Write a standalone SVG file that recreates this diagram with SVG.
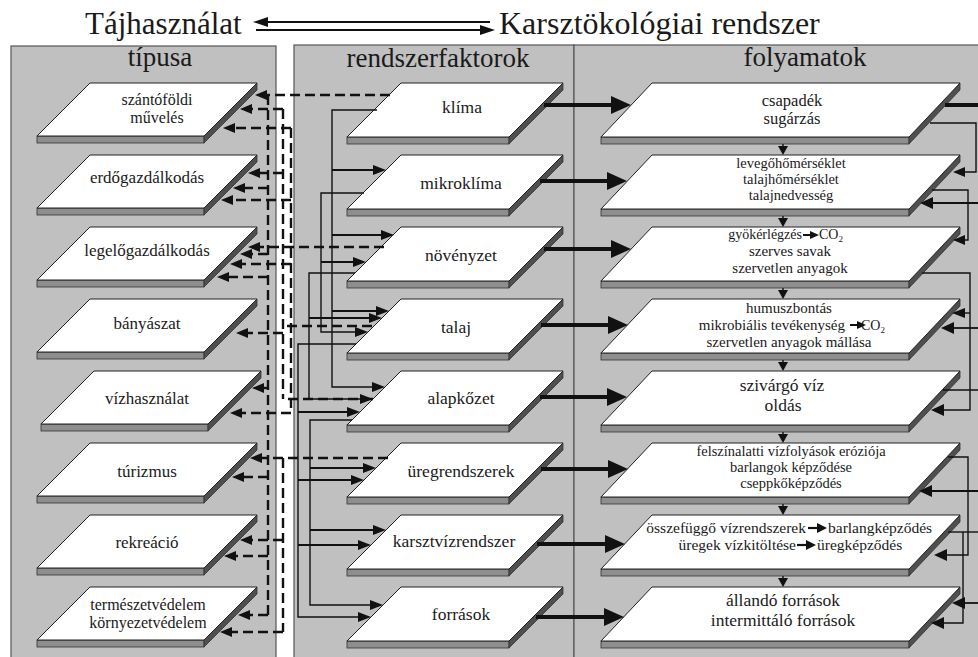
<svg xmlns="http://www.w3.org/2000/svg" width="978" height="657" viewBox="0 0 978 657">
<defs>
<style>
.panel{fill:#c0c0c0;stroke:#555;stroke-width:1.2}
.face{fill:#fff;stroke:#222;stroke-width:1}
.slab{fill:#8e8e8e;stroke:#333;stroke-width:0.8}
.side{fill:#4f4f4f;stroke:#333;stroke-width:0.8}
text{font-family:"Liberation Serif","Times New Roman",serif;fill:#1a1a1a}
.ttl{font-size:31px}
.hdr{font-size:27px;text-anchor:middle}
.lt{font-size:17px;text-anchor:middle}
.lt2{font-size:16px;text-anchor:middle}
.mt{font-size:17.5px;text-anchor:middle}
.rt{font-size:14.5px;text-anchor:middle}
.rb{font-size:17.5px;text-anchor:middle}
.thick{stroke:#111;stroke-width:4;fill:none}
.thin{stroke:#111;stroke-width:1.4;fill:none}
.sol{stroke:#111;stroke-width:2;fill:none}
.dash{stroke:#111;stroke-width:2.4;fill:none;stroke-dasharray:10 5}
.ah{fill:#111;stroke:none}
</style>
</defs>
<rect width="978" height="657" fill="#fff"/>

<!-- title -->
<g id="title">
<text class="ttl" x="85" y="34">Tájhasználat</text>
<text class="ttl" x="499" y="34" style="font-size:32px">Karsztökológiai rendszer</text>
<line x1="262" y1="22" x2="490" y2="22" stroke="#111" stroke-width="2.2"/>
<line x1="256" y1="30" x2="484" y2="30" stroke="#111" stroke-width="2.2"/>
<polygon class="ah" points="253,22 268,17 268,27"/>
<polygon class="ah" points="495,30 480,25 480,35"/>
</g>

<!-- panels -->
<g id="panels">
<rect class="panel" x="11" y="46" width="265" height="630"/>
<rect class="panel" x="294" y="45" width="280" height="630"/>
<rect class="panel" x="574" y="45" width="420" height="630"/>
<text class="hdr" x="160" y="66">típusa</text>
<text class="hdr" x="438" y="67">rendszerfaktorok</text>
<text class="hdr" x="805" y="66">folyamatok</text>
</g>

<!-- left nodes -->
<g id="l-szanto">
<rect class="slab" x="37" y="136" width="167" height="7"/>
<polygon class="side" points="204,136 257,83 257,90 204,143"/>
<polygon class="face" points="37,136 90,83 257,83 204,136"/>
<text class="lt2" x="157" y="105">szántóföldi</text>
<text class="lt2" x="157" y="123">művelés</text>
</g>
<g id="l-erdo">
<rect class="slab" x="37" y="208" width="167" height="7"/>
<polygon class="side" points="204,208 257,155 257,162 204,215"/>
<polygon class="face" points="37,208 90,155 257,155 204,208"/>
<text class="lt" x="147" y="183">erdőgazdálkodás</text>
</g>
<g id="l-legelo">
<rect class="slab" x="37" y="280" width="167" height="7"/>
<polygon class="side" points="204,280 257,227 257,234 204,287"/>
<polygon class="face" points="37,280 90,227 257,227 204,280"/>
<text class="lt" x="147" y="256">legelőgazdálkodás</text>
</g>
<g id="l-banya">
<rect class="slab" x="37" y="352" width="167" height="7"/>
<polygon class="side" points="204,352 257,299 257,306 204,359"/>
<polygon class="face" points="37,352 90,299 257,299 204,352"/>
<text class="lt" x="147" y="329">bányászat</text>
</g>
<g id="l-viz">
<rect class="slab" x="41" y="424" width="167" height="7"/>
<polygon class="side" points="208,424 261,371 261,378 208,431"/>
<polygon class="face" points="41,424 94,371 261,371 208,424"/>
<text class="lt" x="147" y="404">vízhasználat</text>
</g>
<g id="l-turizmus">
<rect class="slab" x="37" y="496" width="167" height="7"/>
<polygon class="side" points="204,496 257,443 257,450 204,503"/>
<polygon class="face" points="37,496 90,443 257,443 204,496"/>
<text class="lt" x="147" y="477">túrizmus</text>
</g>
<g id="l-rekreacio">
<rect class="slab" x="37" y="568" width="167" height="7"/>
<polygon class="side" points="204,568 257,515 257,522 204,575"/>
<polygon class="face" points="37,568 90,515 257,515 204,568"/>
<text class="lt" x="147" y="548">rekreáció</text>
</g>
<g id="l-termvedelem">
<rect class="slab" x="37" y="640" width="167" height="7"/>
<polygon class="side" points="204,640 257,587 257,594 204,647"/>
<polygon class="face" points="37,640 90,587 257,587 204,640"/>
<text class="lt2" x="148" y="610">természetvédelem</text>
<text class="lt2" x="148" y="628">környezetvédelem</text>
</g>

<!-- middle nodes -->
<g id="m-klima">
<rect class="slab" x="347" y="137" width="162" height="7"/>
<polygon class="side" points="509,137 563,83 563,90 509,144"/>
<polygon class="face" points="347,137 401,83 563,83 509,137"/>
<text class="mt" x="462" y="113">klíma</text>
</g>
<g id="m-mikroklima">
<rect class="slab" x="347" y="209" width="162" height="7"/>
<polygon class="side" points="509,209 563,155 563,162 509,216"/>
<polygon class="face" points="347,209 401,155 563,155 509,209"/>
<text class="mt" x="461" y="189">mikroklíma</text>
</g>
<g id="m-novenyzet">
<rect class="slab" x="347" y="281" width="162" height="7"/>
<polygon class="side" points="509,281 563,227 563,234 509,288"/>
<polygon class="face" points="347,281 401,227 563,227 509,281"/>
<text class="mt" x="461" y="261">növényzet</text>
</g>
<g id="m-talaj">
<rect class="slab" x="347" y="353" width="162" height="7"/>
<polygon class="side" points="509,353 563,299 563,306 509,360"/>
<polygon class="face" points="347,353 401,299 563,299 509,353"/>
<text class="mt" x="456" y="333">talaj</text>
</g>
<g id="m-alapkozet">
<rect class="slab" x="347" y="425" width="162" height="7"/>
<polygon class="side" points="509,425 563,371 563,378 509,432"/>
<polygon class="face" points="347,425 401,371 563,371 509,425"/>
<text class="mt" x="461" y="404">alapkőzet</text>
</g>
<g id="m-uregrendszerek">
<rect class="slab" x="347" y="497" width="162" height="7"/>
<polygon class="side" points="509,497 563,443 563,450 509,504"/>
<polygon class="face" points="347,497 401,443 563,443 509,497"/>
<text class="mt" x="461" y="477">üregrendszerek</text>
</g>
<g id="m-karsztviz">
<rect class="slab" x="347" y="569" width="162" height="7"/>
<polygon class="side" points="509,569 563,515 563,522 509,576"/>
<polygon class="face" points="347,569 401,515 563,515 509,569"/>
<text class="mt" x="454" y="547">karsztvízrendszer</text>
</g>
<g id="m-forrasok">
<rect class="slab" x="347" y="641" width="162" height="7"/>
<polygon class="side" points="509,641 563,587 563,594 509,648"/>
<polygon class="face" points="347,641 401,587 563,587 509,641"/>
<text class="mt" x="461" y="620">források</text>
</g>

<!-- right nodes -->
<g id="r-csapadek">
<rect class="slab" x="601" y="137" width="308" height="7"/>
<polygon class="side" points="909,137 960,83 960,90 909,144"/>
<polygon class="face" points="601,137 652,83 960,83 909,137"/>
<text class="rb" x="792" y="106" style="font-size:16.5px">csapadék</text>
<text class="rb" x="792" y="124" style="font-size:16.5px">sugárzás</text>
</g>
<g id="r-levego">
<rect class="slab" x="601" y="209" width="308" height="7"/>
<polygon class="side" points="909,209 960,155 960,162 909,216"/>
<polygon class="face" points="601,209 652,155 960,155 909,209"/>
<text class="rt" x="791" y="168">levegőhőmérséklet</text>
<text class="rt" x="791" y="184">talajhőmérséklet</text>
<text class="rt" x="791" y="200">talajnedvesség</text>
</g>
<g id="r-gyoker">
<rect class="slab" x="601" y="281" width="308" height="7"/>
<polygon class="side" points="909,281 960,227 960,234 909,288"/>
<polygon class="face" points="601,281 652,227 960,227 909,281"/>
<text class="rt" x="802" y="239" style="text-anchor:end;font-size:14px">gyökérlégzés</text>
<line x1="803" y1="235" x2="812" y2="235" stroke="#111" stroke-width="2"/>
<polygon class="ah" points="819,235 810,231 810,239"/>
<text class="rt" x="819" y="239" style="text-anchor:start;font-size:14px">CO<tspan font-size="9" dy="3">2</tspan></text>
<text class="rt" x="790" y="256" style="font-size:15px">szerves savak</text>
<text class="rt" x="790" y="273" style="font-size:15px">szervetlen anyagok</text>
</g>
<g id="r-humusz">
<rect class="slab" x="601" y="353" width="308" height="7"/>
<polygon class="side" points="909,353 960,299 960,306 909,360"/>
<polygon class="face" points="601,353 652,299 960,299 909,353"/>
<text class="rt" x="789" y="313" style="font-size:15px">humuszbontás</text>
<text class="rt" x="845" y="330" style="text-anchor:end;font-size:15px">mikrobiális tevékenység</text>
<line x1="850" y1="325" x2="858" y2="325" stroke="#111" stroke-width="2"/>
<polygon class="ah" points="866,325 857,321 857,329"/>
<text class="rt" x="861" y="330" style="text-anchor:start;font-size:14px">CO<tspan font-size="9" dy="3">2</tspan></text>
<text class="rt" x="789" y="347" style="font-size:15px">szervetlen anyagok mállása</text>
</g>
<g id="r-szivargo">
<rect class="slab" x="601" y="425" width="308" height="7"/>
<polygon class="side" points="909,425 960,371 960,378 909,432"/>
<polygon class="face" points="601,425 652,371 960,371 909,425"/>
<text class="rb" x="782" y="391">szivárgó víz</text>
<text class="rb" x="783" y="411">oldás</text>
</g>
<g id="r-felszin">
<rect class="slab" x="601" y="497" width="308" height="7"/>
<polygon class="side" points="909,497 960,443 960,450 909,504"/>
<polygon class="face" points="601,497 652,443 960,443 909,497"/>
<text class="rt" x="791" y="456">felszínalatti vízfolyások eróziója</text>
<text class="rt" x="791" y="472">barlangok képződése</text>
<text class="rt" x="791" y="488">cseppkőképződés</text>
</g>
<g id="r-osszefuggo">
<rect class="slab" x="601" y="569" width="308" height="7"/>
<polygon class="side" points="909,569 960,515 960,522 909,576"/>
<polygon class="face" points="601,569 652,515 960,515 909,569"/>
<text class="rt" x="806" y="533" style="text-anchor:end;font-size:15.5px">összefüggő vízrendszerek</text>
<line x1="808" y1="528" x2="818" y2="528" stroke="#111" stroke-width="2.2"/>
<polygon class="ah" points="827,528 817,523 817,533"/>
<text class="rt" x="828" y="533" style="text-anchor:start;font-size:15.5px">barlangképződés</text>
<text class="rt" x="796" y="550" style="text-anchor:end;font-size:15.5px">üregek vízkitöltése</text>
<line x1="797" y1="545" x2="807" y2="545" stroke="#111" stroke-width="2.2"/>
<polygon class="ah" points="816,545 806,540 806,550"/>
<text class="rt" x="817" y="550" style="text-anchor:start;font-size:15.5px">üregképződés</text>
</g>
<g id="r-allando">
<rect class="slab" x="601" y="641" width="308" height="7"/>
<polygon class="side" points="909,641 960,587 960,594 909,648"/>
<polygon class="face" points="601,641 652,587 960,587 909,641"/>
<text class="rb" x="783" y="606">állandó források</text>
<text class="rb" x="783" y="626">intermittáló források</text>
</g>

<!-- connectors -->
<g id="connectors">
<!-- middle to right thick -->
<line class="thick" x1="544" y1="105" x2="614" y2="105"/><polygon class="ah" points="631,105 611,96 611,114"/>
<line class="thick" x1="540" y1="181" x2="610" y2="181"/><polygon class="ah" points="627,181 607,172 607,190"/>
<line class="thick" x1="544" y1="249" x2="614" y2="249"/><polygon class="ah" points="631,249 611,240 611,258"/>
<line class="thick" x1="541" y1="325" x2="611" y2="325"/><polygon class="ah" points="628,325 608,316 608,334"/>
<line class="thick" x1="540" y1="397" x2="610" y2="397"/><polygon class="ah" points="627,397 607,388 607,406"/>
<line class="thick" x1="541" y1="469" x2="611" y2="469"/><polygon class="ah" points="628,469 608,460 608,478"/>
<line class="thick" x1="537" y1="544" x2="608" y2="544"/><polygon class="ah" points="625,544 605,535 605,553"/>
<line class="thick" x1="536" y1="617" x2="607" y2="617"/><polygon class="ah" points="624,617 604,608 604,626"/>

<!-- right column down arrows -->
<line class="thin" x1="783" y1="144" x2="783" y2="148"/><polygon class="ah" points="778,146 788,146 783,155"/>
<line class="thin" x1="783" y1="216" x2="783" y2="220"/><polygon class="ah" points="778,218 788,218 783,227"/>
<line class="thin" x1="783" y1="288" x2="783" y2="292"/><polygon class="ah" points="778,290 788,290 783,299"/>
<line class="thin" x1="783" y1="360" x2="783" y2="364"/><polygon class="ah" points="778,362 788,362 783,371"/>
<line class="thin" x1="783" y1="432" x2="783" y2="436"/><polygon class="ah" points="778,434 788,434 783,443"/>
<line class="thin" x1="783" y1="504" x2="783" y2="508"/><polygon class="ah" points="778,506 788,506 783,515"/>
<line class="thin" x1="783" y1="576" x2="783" y2="580"/><polygon class="ah" points="778,578 788,578 783,587"/>

<!-- right edge feedback -->
<line class="thick" x1="945" y1="105" x2="980" y2="105"/>
<polyline class="thin" points="930,123 976,123 976,172 963,172"/><polygon class="ah" points="953,172 965,167 965,177"/>
<line class="thin" x1="980" y1="203" x2="930" y2="203" style="stroke-width:1.8"/><polygon class="ah" points="920,203 933,197 933,209"/>
<polyline class="thin" points="932,190 968,190 968,240 963,240"/><polygon class="ah" points="953,240 965,235 965,245"/>
<polyline class="thin" points="922,273 970,273 970,410 942,410"/><polygon class="ah" points="931,410 944,404 944,416"/>
<line class="thin" x1="970" y1="313" x2="963" y2="313"/><polygon class="ah" points="952,313 965,308 965,318"/>
<line class="thin" x1="980" y1="328" x2="952" y2="328" style="stroke-width:1.8"/><polygon class="ah" points="941,328 954,322 954,334"/>
<line class="thin" x1="943" y1="390" x2="980" y2="390"/>
<polyline class="thin" points="948,457 968,457 968,555 945,555"/><polygon class="ah" points="934,555 947,549 947,561"/>
<line class="thin" x1="980" y1="491" x2="930" y2="491" style="stroke-width:1.8"/><polygon class="ah" points="919,491 932,485 932,497"/>
<line class="thin" x1="948" y1="532" x2="980" y2="532"/>
<polyline class="thin" points="963,532 963,623 943,623"/><polygon class="ah" points="931,623 944,617 944,629"/>
<line class="thin" x1="980" y1="603" x2="963" y2="603" style="stroke-width:1.8"/><polygon class="ah" points="952,603 965,597 965,609"/>

<!-- middle solid buses -->
<polyline class="thin" points="377,110 332,110 332,387 373,387"/>
<polygon class="ah" points="385,387 372,382 372,392"/>
<line class="sol" x1="332" y1="170" x2="374" y2="170"/><polygon class="ah" points="386,170 373,165 373,175"/>
<line class="sol" x1="332" y1="235" x2="382" y2="235"/><polygon class="ah" points="394,235 381,230 381,240"/>
<line class="sol" x1="332" y1="311" x2="377" y2="311"/><polygon class="ah" points="389,311 376,306 376,316"/>

<polyline class="thin" points="364,193 321,193 321,332 356,332"/>
<polygon class="ah" points="368,332 355,327 355,337"/>
<line class="sol" x1="321" y1="262" x2="354" y2="262"/><polygon class="ah" points="366,262 353,257 353,267"/>

<polyline class="thin" points="355,273 309,273 309,399 361,399"/>
<polygon class="ah" points="373,399 360,394 360,404"/>
<line class="sol" x1="309" y1="318" x2="370" y2="318"/><polygon class="ah" points="382,318 369,313 369,323"/>

<polyline class="thin" points="356,344 298,344 298,617 359,617"/>
<polygon class="ah" points="371,617 358,612 358,622"/>
<line class="sol" x1="298" y1="412" x2="348" y2="412"/><polygon class="ah" points="360,412 347,407 347,417"/>
<line class="sol" x1="298" y1="480" x2="352" y2="480"/><polygon class="ah" points="364,480 351,475 351,485"/>
<line class="sol" x1="298" y1="545" x2="359" y2="545"/><polygon class="ah" points="371,545 358,540 358,550"/>

<polyline class="thin" points="352,420 310,420 310,605 371,605"/>
<polygon class="ah" points="383,605 370,600 370,610"/>
<line class="sol" x1="310" y1="468" x2="364" y2="468"/><polygon class="ah" points="376,468 363,463 363,473"/>
<line class="sol" x1="310" y1="530" x2="374" y2="530"/><polygon class="ah" points="386,530 373,525 373,535"/>

<!-- dashed: factors to land use -->
<line class="dash" x1="390" y1="95" x2="265" y2="95"/><polygon class="ah" points="255,95 267,90 267,100"/>
<line class="dash" x1="384" y1="247" x2="258" y2="247"/><polygon class="ah" points="248,247 260,242 260,252"/>
<line class="dash" x1="372" y1="326" x2="283" y2="326"/>
<line class="dash" x1="373" y1="399" x2="283" y2="399"/>
<line class="dash" x1="388" y1="458" x2="260" y2="458"/><polygon class="ah" points="250,458 262,453 262,463"/>

<line class="dash" x1="268" y1="95" x2="268" y2="615"/>
<line class="dash" x1="283" y1="109" x2="283" y2="399"/>
<line class="dash" x1="291" y1="128" x2="291" y2="413"/>
<line class="dash" x1="283" y1="458" x2="283" y2="632"/>

<line class="dash" x1="283" y1="109" x2="250" y2="109"/><polygon class="ah" points="240,109 252,104 252,114"/>
<line class="dash" x1="291" y1="128" x2="233" y2="128"/><polygon class="ah" points="223,128 235,123 235,133"/>
<line class="dash" x1="283" y1="173" x2="258" y2="173"/><polygon class="ah" points="248,173 260,168 260,178"/>
<line class="dash" x1="268" y1="188" x2="243" y2="188"/><polygon class="ah" points="233,188 245,183 245,193"/>
<line class="dash" x1="291" y1="200" x2="231" y2="200"/><polygon class="ah" points="221,200 233,195 233,205"/>
<line class="dash" x1="268" y1="254" x2="250" y2="254"/><polygon class="ah" points="240,254 252,249 252,259"/>
<line class="dash" x1="291" y1="264" x2="240" y2="264"/><polygon class="ah" points="230,264 242,259 242,269"/>
<line class="dash" x1="268" y1="277" x2="227" y2="277"/><polygon class="ah" points="217,277 229,272 229,282"/>
<line class="dash" x1="283" y1="333" x2="246" y2="333"/><polygon class="ah" points="236,333 248,328 248,338"/>
<line class="dash" x1="268" y1="388" x2="262" y2="388"/><polygon class="ah" points="252,388 264,383 264,393"/>
<line class="dash" x1="291" y1="413" x2="240" y2="413"/><polygon class="ah" points="230,413 242,408 242,418"/>
<line class="dash" x1="268" y1="477" x2="242" y2="477"/><polygon class="ah" points="232,477 244,472 244,482"/>
<line class="dash" x1="283" y1="540" x2="250" y2="540"/><polygon class="ah" points="240,540 252,535 252,545"/>
<line class="dash" x1="268" y1="556" x2="234" y2="556"/><polygon class="ah" points="224,556 236,551 236,561"/>
<line class="dash" x1="268" y1="615" x2="248" y2="615"/><polygon class="ah" points="238,615 250,610 250,620"/>
<line class="dash" x1="283" y1="632" x2="230" y2="632"/><polygon class="ah" points="220,632 232,627 232,637"/>
</g>
</svg>
